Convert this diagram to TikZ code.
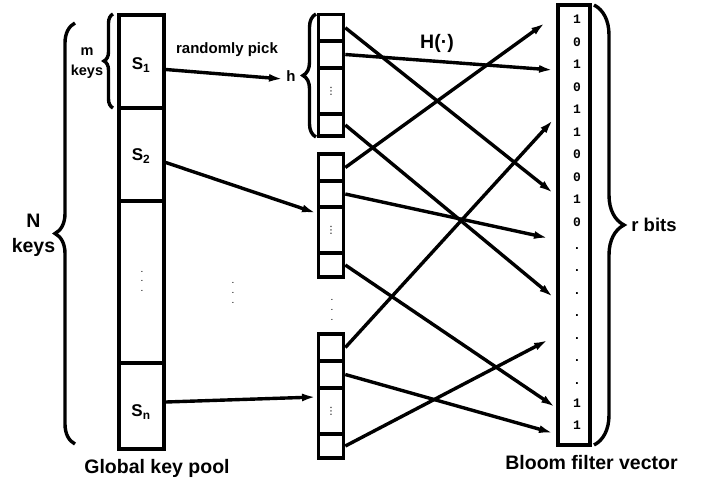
\documentclass[tikz,border=0pt]{standalone}
\usepackage{fontspec}
\setmainfont{Liberation Sans}
\setmonofont{Liberation Mono}
\newfontfamily\dvsans{DejaVu Sans}
\usetikzlibrary{arrows.meta,decorations.pathreplacing}
\newcommand{\fsz}[2]{\fontsize{#1}{#2}\selectfont}
\begin{document}
\begin{tikzpicture}[x=1pt,y=-1pt,
  box/.style={draw,line width=3.6pt,inner sep=0pt,minimum width=#1},
  poolcell/.style={box=45pt},
  midcell/.style={box=25pt},
  arr/.style={line width=3.4pt,-{Latex[length=14pt,width=8pt]}},
  brc/.style={decorate,decoration={brace,amplitude=#1},line width=3.4pt},
  lbl/.style 2 args={font=\bfseries\fsz{#1}{#2},inner sep=0pt,align=center},
  bit/.style={font=\ttfamily\bfseries\fsz{13}{13},inner sep=0pt,anchor=base},
  vdot/.style 2 args={font=\fsz{#1}{#2},inner sep=0pt,align=center},
  celldots/.style={font=\dvsans\fsz{10}{10},inner sep=0pt}
]
\path[use as bounding box] (0,0) rectangle (706,483);

% global key pool
\node[poolcell,minimum height=93pt] (s1) at (141.5,61.5) {};
\node[poolcell,minimum height=93pt] (s2) at (141.5,154.5) {};
\node[poolcell,minimum height=162pt] (sd) at (141.5,282) {};
\node[poolcell,minimum height=86pt] (sn) at (141.5,406) {};
\node[lbl={17}{17}] (s1l) at (141,65) {S\textsubscript{1}};
\node[lbl={17}{17}] (s2l) at (141,156) {S\textsubscript{2}};
\node[lbl={17}{17}] (snl) at (141,412) {S\textsubscript{n}};
\node[vdot={10}{9.5}] (sdd) at (142,281) {.\\.\\.};

% middle groups
\node[midcell,minimum height=26.5pt] (g1a) at (331,27.75) {};
\node[midcell,minimum height=27pt] (g1b) at (331,54.5) {};
\node[midcell,minimum height=46pt] (g1c) at (331,91) {};
\node[midcell,minimum height=22pt] (g1d) at (331,125) {};
\node[celldots] (g1dots) at (g1c) {⋮};

\node[midcell,minimum height=27pt] (g2a) at (331,167.5) {};
\node[midcell,minimum height=26pt] (g2b) at (331,194) {};
\node[midcell,minimum height=46pt] (g2c) at (331,230) {};
\node[midcell,minimum height=24pt] (g2d) at (331,265) {};
\node[celldots] (g2dots) at (g2c) {⋮};

\node[midcell,minimum height=27pt] (g3a) at (331,347.5) {};
\node[midcell,minimum height=26.7pt] (g3b) at (331,374.5) {};
\node[midcell,minimum height=46.7pt] (g3c) at (331,411) {};
\node[midcell,minimum height=23.5pt] (g3d) at (331,446) {};
\node[celldots] (g3dots) at (g3c) {⋮};

\node[vdot={10}{10}] (mdots) at (332,310) {.\\.\\.};
\node[vdot={10}{10}] (ldots) at (233,293) {.\\.\\.};

% bloom filter vector
\node[box=32pt,minimum height=440pt] (bv) at (574,225) {};
\foreach \b [count=\i from 0] in {1,0,1,0,1,1,0,0,1,0,.,.,.,.,.,.,.,1,1}
  \node[bit] (b\i) at (577,{23.5+22.56*\i}) {\b};

% labels
\node[lbl={15}{15}] (rp) at (227,50) {randomly pick};
\node[lbl={15}{15}] (hl) at (291,76) {h};
\node[lbl={14.5}{20}] (mk) at (87,63) {m\\keys};
\node[lbl={19.5}{25}] (nk) at (33.5,235) {N\\keys};
\node[lbl={19.5}{19.5}] (hf) at (437,43) {H(·)};
\node[lbl={18.5}{18.5}] (rb) at (654,225) {r bits};
\node[lbl={19.5}{19.5}] (gkp) at (157,468) {Global key pool};
\node[lbl={19.5}{19.5}] (bfv) at (591.5,463) {Bloom filter vector};

% braces
\draw[brc=20] (75,444) -- (75,23);
\draw[brc=9] (113,108) -- (113,14);
\draw[brc=13] (316,137) -- (316,14);
\draw[brc=30] (594,5) -- (594,445);

% input arrows
\coordinate (hin) at (283,79);
\coordinate (g2in) at (316,213);
\coordinate (g3in) at (316,397);
\draw[arr] ([yshift=-8pt]s1.east) -- (hin);
\draw[arr] ([yshift=-8pt]s2.east) -- (g2in);
\draw[arr] ([yshift=4pt]sn.east) -- (g3in);

% hash arrows
\coordinate (e1) at (545,23);
\coordinate (e2) at (553,70);
\coordinate (e3) at (553,120);
\coordinate (e4) at (553,193);
\coordinate (e5) at (548,238);
\coordinate (e6) at (553,297);
\coordinate (e7) at (548,340);
\coordinate (e8) at (555,407);
\coordinate (e9) at (553,433);
\draw[arr] (g2a.east) -- (e1);
\draw[arr] (g1b.east) -- (e2);
\draw[arr] (g3a.east) -- (e3);
\draw[arr] (g1a.east) -- (e4);
\draw[arr] (g2b.east) -- (e5);
\draw[arr] (g1d.east) -- (e6);
\draw[arr] (g3d.east) -- (e7);
\draw[arr] (g2d.east) -- (e8);
\draw[arr] (g3b.east) -- (e9);
\end{tikzpicture}
\end{document}
